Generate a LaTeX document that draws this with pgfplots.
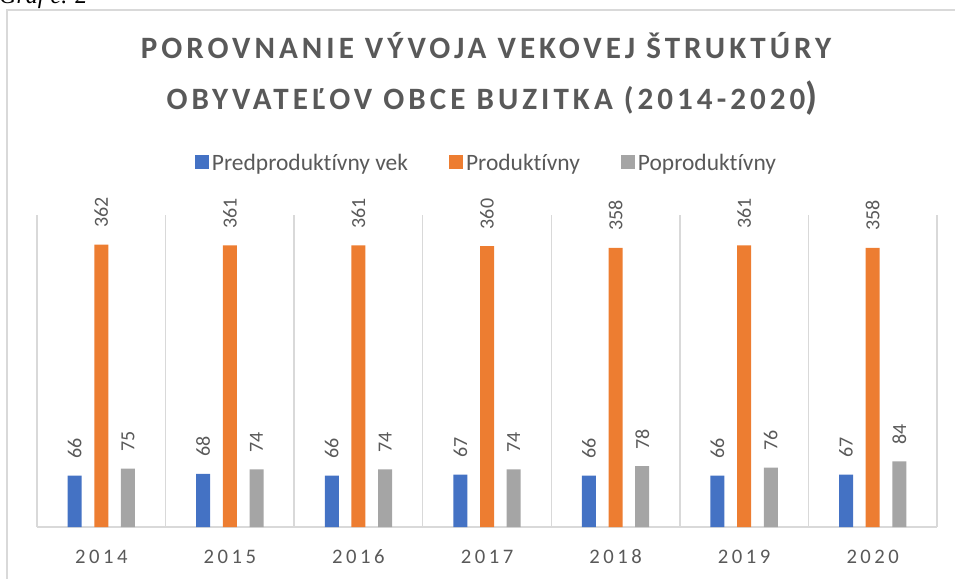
\documentclass[border=0pt]{standalone}
\usepackage{pgfplots}
\pgfplotsset{compat=1.18}
\usepackage{fontspec}
\setmainfont{Carlito}[Ligatures=CommonOff]
\newfontfamily\titlefont[LetterSpace=13,Ligatures=CommonOff]{Carlito}
\newfontfamily\tickfont[LetterSpace=17]{Carlito}
\newfontfamily\seriffont{Liberation Serif}
\definecolor{cblue}{HTML}{4472C4}
\definecolor{corange}{HTML}{ED7D31}
\definecolor{cgray}{HTML}{A5A5A5}
\definecolor{ctext}{HTML}{595959}
\definecolor{cline}{HTML}{D9D9D9}
\begin{document}
\begin{tikzpicture}
\begin{scope}[x=0.75pt,y=0.75pt]
\useasboundingbox (0,0) rectangle (955,578);
\begin{scope}
\clip (0,0) rectangle (955,578);
\draw[cline, line width=1.1pt] (7,568) rectangle (990,-30);
\node[anchor=base west, inner sep=0pt] at (-1,574.5) {\seriffont\itshape\fontsize{18}{20}\selectfont Graf č. 2};
\end{scope}
\node[anchor=base, inner sep=0pt, text=ctext] at (486,519) {\titlefont\bfseries\fontsize{23.3}{27}\selectfont POROVNANIE VÝVOJA VEKOVEJ ŠTRUKTÚRY};
\node[anchor=base, inner sep=0pt, text=ctext] at (492,468) {\titlefont\bfseries\fontsize{23.3}{27}\selectfont OBYVATEĽOV OBCE BUZITKA (2014-2020{\fontsize{29}{29}\selectfont)}};
\end{scope}
\begin{axis}[
  at={(27.75pt,38.25pt)}, anchor=south west,
  scale only axis, width=675pt, height=234pt,
  ybar=9.5pt, bar width=10.5pt,
  xmin=-0.5, xmax=6.5, ymin=0, ymax=400,
  axis y line=none, axis x line*=bottom,
  x axis line style={draw=cline, line width=1pt},
  xtick={0,...,6}, xticklabels={2014,2015,2016,2017,2018,2019,2020},
  minor xtick={-0.5,0.5,...,6.5},
  xminorgrids, minor grid style={draw=cline, line width=1pt},
  major tick length=0pt, minor tick length=0pt,
  xticklabel style={anchor=base, yshift=-27pt, text=ctext, font=\tickfont\fontsize{15.5}{18}\selectfont},
  clip=false,
  /pgf/number format/assume math mode=true,
  nodes near coords,
  nodes near coords style={rotate=90, anchor=west, inner sep=0pt, outer xsep=12.75pt, text=ctext, font=\fontsize{15}{17}\selectfont},
  legend style={at={(axis description cs:0.5,1)}, anchor=center, yshift=39pt, draw=none, fill=none, legend columns=-1, font=\fontsize{17.6}{20}\selectfont, text=ctext, /tikz/every even column/.append style={column sep=29pt}},
  legend image code/.code={\fill[#1] (-2pt,-4.5pt) rectangle (8.5pt,6pt);},
]
\addplot[fill=cblue, draw=none] coordinates {(0,66) (1,68) (2,66) (3,67) (4,66) (5,66) (6,67)};
\addplot[fill=corange, draw=none] coordinates {(0,362) (1,361) (2,361) (3,360) (4,358) (5,361) (6,358)};
\addplot[fill=cgray, draw=none] coordinates {(0,75) (1,74) (2,74) (3,74) (4,78) (5,76) (6,84)};
\legend{Predproduktívny vek, Produktívny, Poproduktívny}
\end{axis}
\end{tikzpicture}
\end{document}
